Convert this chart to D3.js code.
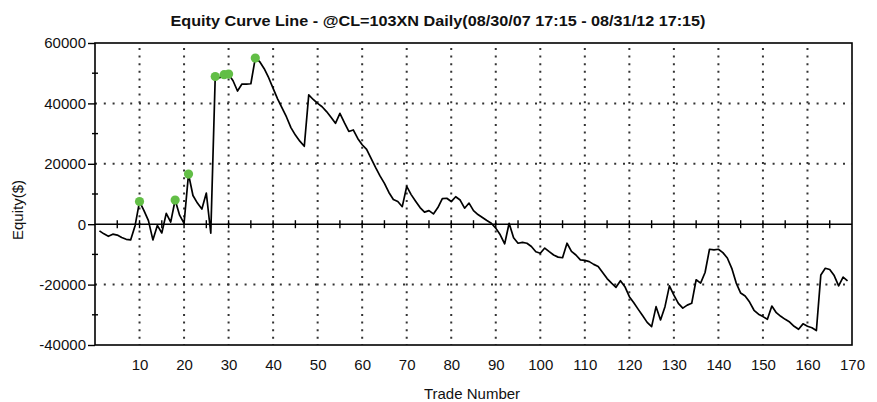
<!DOCTYPE html>
<html>
<head>
<meta charset="utf-8">
<script src="https://cdn.jsdelivr.net/npm/d3@7"></script>
<style>
  html, body { margin: 0; padding: 0; background: #fff; }
  svg { display: block; }
  text { font-family: "Liberation Sans", Arial, sans-serif; fill: #111; }
</style>
</head>
<body>
<svg id="chart" width="877" height="402"></svg>
<script>
// Closed-trade equity, one value per trade (trade 1 .. 169)
const equity = [
  -2200, -3200, -4000, -3300, -3600, -4400, -5000, -5200, -500, 7500,
  4500, 1200, -5200, -400, -2900, 3600, 700, 8000, 3000, 300,
  16600, 9500, 7000, 5000, 10300, -3000, 48900, 48500, 49500, 49700,
  47500, 44100, 46400, 46400, 46500, 55000, 53800, 51500, 48500, 45000,
  41500, 38500, 35500, 32000, 29500, 27500, 25800, 42800, 41300, 40000,
  38900, 37300, 35400, 33400, 36700, 33600, 30700, 31200, 28400, 26300,
  24800, 21800, 18800, 16000, 13500, 10500, 8200, 7500, 5800, 12500,
  9800, 7600, 5500, 4000, 4500, 3400, 5500, 8500, 8600, 7500,
  9100, 8000, 5300, 7000, 4500, 3200, 2200, 1200, 300, -1300,
  -3500, -6500, 300, -4500, -6300, -6000, -6300, -7400, -9100, -9600,
  -7900, -9100, -10200, -10900, -11100, -6300, -9000, -10200, -11800, -12000,
  -12400, -13300, -14000, -16000, -18000, -19500, -20900, -18700, -20700, -24000,
  -26000, -28200, -30300, -32500, -33900, -27300, -31700, -27300, -20400, -23500,
  -26200, -27800, -26800, -26200, -18400, -19500, -16000, -8300, -8500, -8300,
  -9400, -11200, -14600, -19500, -22800, -23800, -25800, -28500, -29800, -30600,
  -31500, -27100, -29300, -30500, -31500, -32400, -33800, -34800, -33000, -33800,
  -34300, -35200, -16800, -14600, -15000, -17000, -20400, -17500, -18800
];
const tradeNumbers = equity.map((_, i) => i + 1);

const xTickLabels = [10, 20, 30, 40, 50, 60, 70, 80, 90, 100, 110, 120, 130, 140, 150, 160, 170];
const yTickLabels = [60000, 40000, 20000, 0, -20000, -40000];
const yMinorTicks = [50000, 30000, 10000, -10000, -30000];
const xZeroTicks = d3.range(5, 170, 5);
const yGridLines = [40000, 20000, -20000];
const xGridLines = [10, 20, 30, 40, 50, 60, 70, 80, 90, 100, 110, 120, 130, 140, 150, 160];

const titleText = "Equity Curve Line - @CL=103XN Daily(08/30/07 17:15 - 08/31/12 17:15)";

const svg = d3.select("#chart");
const plotLeft = 95, plotRight = 852, plotTop = 43, plotBottom = 345;

const x = d3.scaleLinear().domain([0, 170]).range([plotLeft, plotRight]);
const y = d3.scaleLinear().domain([-40000, 60000]).range([plotBottom, plotTop]);

// Title
svg.append("text")
  .attr("x", 438).attr("y", 26)
  .attr("text-anchor", "middle")
  .attr("font-size", 15).attr("font-weight", "bold")
  .attr("textLength", 535).attr("lengthAdjust", "spacingAndGlyphs")
  .text(titleText);

// Dotted grid
const grid = svg.append("g").attr("stroke", "#333").attr("stroke-width", 2);
grid.selectAll("line.h").data(yGridLines).join("line")
  .attr("class", "h")
  .attr("x1", plotLeft).attr("x2", plotRight)
  .attr("y1", d => y(d)).attr("y2", d => y(d))
  .attr("stroke-dasharray", "2,6.8");
grid.selectAll("line.v").data(xGridLines).join("line")
  .attr("class", "v")
  .attr("x1", d => x(d)).attr("x2", d => x(d))
  .attr("y1", plotTop + 5).attr("y2", plotBottom)
  .attr("stroke-dasharray", "2,5.6");

// Zero line with trade ticks every 5
svg.append("line")
  .attr("x1", plotLeft).attr("x2", plotRight)
  .attr("y1", y(0)).attr("y2", y(0))
  .attr("stroke", "#000").attr("stroke-width", 1.6);
svg.append("g").selectAll("line").data(xZeroTicks).join("line")
  .attr("x1", d => x(d)).attr("x2", d => x(d))
  .attr("y1", y(0) - 4).attr("y2", y(0) + 4)
  .attr("stroke", "#000").attr("stroke-width", 1.4);

// Plot frame
svg.append("rect")
  .attr("x", plotLeft).attr("y", plotTop)
  .attr("width", plotRight - plotLeft).attr("height", plotBottom - plotTop)
  .attr("fill", "none").attr("stroke", "#000").attr("stroke-width", 1.6);

// Y axis ticks and labels (plain hyphen for negatives)
const yAxis = d3.axisLeft(y)
  .tickValues(yTickLabels)
  .tickFormat(d => String(d))
  .tickSize(7).tickPadding(2);
const gy = svg.append("g").attr("transform", `translate(${plotLeft},0)`).call(yAxis);
gy.select(".domain").remove();
gy.selectAll(".tick line").attr("stroke", "#000").attr("stroke-width", 1.4);
gy.selectAll(".tick text")
  .attr("font-size", 15)
  .attr("font-family", "Liberation Sans, Arial, sans-serif")
  .attr("fill", "#111");
svg.append("g").selectAll("line").data(yMinorTicks).join("line")
  .attr("x1", plotLeft - 3).attr("x2", plotLeft + 3)
  .attr("y1", d => y(d)).attr("y2", d => y(d))
  .attr("stroke", "#000").attr("stroke-width", 1.4);

// X axis labels
const xAxis = d3.axisBottom(x)
  .tickValues(xTickLabels)
  .tickFormat(d => String(d))
  .tickSize(0).tickPadding(14);
const gx = svg.append("g").attr("transform", `translate(0,${plotBottom})`).call(xAxis);
gx.select(".domain").remove();
gx.selectAll(".tick text")
  .attr("font-size", 15)
  .attr("font-family", "Liberation Sans, Arial, sans-serif")
  .attr("fill", "#111");

// Axis titles
svg.append("text")
  .attr("x", 472).attr("y", 399)
  .attr("text-anchor", "middle").attr("font-size", 15)
  .text("Trade Number");
svg.append("text")
  .attr("transform", "translate(23,210) rotate(-90)")
  .attr("text-anchor", "middle").attr("font-size", 15)
  .text("Equity($)");

// Equity curve
const line = d3.line()
  .x((d, i) => x(tradeNumbers[i]))
  .y(d => y(d));
svg.append("path")
  .datum(equity)
  .attr("d", line)
  .attr("fill", "none")
  .attr("stroke", "#000")
  .attr("stroke-width", 1.7)
  .attr("stroke-linejoin", "round");

// New equity highs
let runMax = 0;
const highs = [];
equity.forEach((v, i) => {
  if (v > runMax) { runMax = v; highs.push({ t: tradeNumbers[i], v }); }
});
svg.append("g").selectAll("circle").data(highs).join("circle")
  .attr("cx", d => x(d.t)).attr("cy", d => y(d.v))
  .attr("r", 4.6)
  .attr("fill", "#62be46");
</script>
</body>
</html>
